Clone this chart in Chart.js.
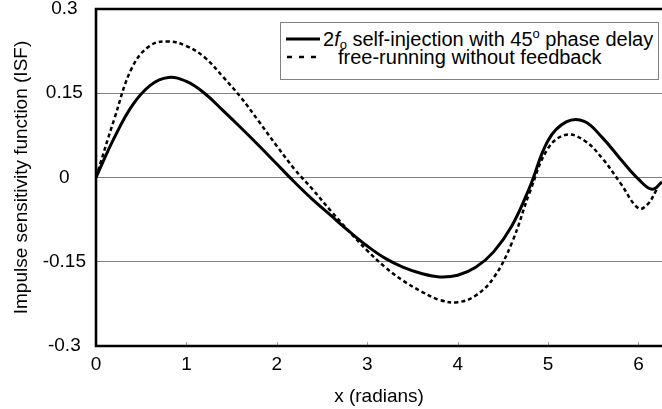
<!DOCTYPE html>
<html>
<head>
<meta charset="utf-8">
<script src="https://cdn.jsdelivr.net/npm/chart.js@4.4.1/dist/chart.umd.min.js"></script>
<style>
  html, body { margin: 0; padding: 0; background: #fff; }
  #wrap { position: relative; width: 662px; height: 409px; }
  #legend {
    position: absolute; left: 280px; top: 22px; width: 379px; height: 58px;
    border: 1px solid #808080; background: #fff; box-sizing: border-box;
    font-family: "Liberation Sans", Arial, sans-serif; font-size: 20px; color: #000;
  }
  .row { position: absolute; white-space: nowrap; line-height: 20px; }
  .sample { position: absolute; }
  sub { font-size: 13px; vertical-align: -3px; line-height: 0; }
  sup { font-size: 13px; vertical-align: 8px; line-height: 0; }
</style>
</head>
<body>
<div id="wrap">
  <canvas id="c" width="662" height="409"></canvas>
  <div id="legend">
    <svg class="sample" style="left:5px; top:12px;" width="34" height="8"><line x1="0" y1="4" x2="34" y2="4" stroke="#000" stroke-width="3"/></svg>
    <div class="row" style="left:42px; top:6px;">2<i>f</i><sub>o</sub> self-injection with 45<sup>o</sup> phase delay</div>
    <svg class="sample" style="left:6px; top:30px;" width="30" height="8"><line x1="0" y1="4" x2="30" y2="4" stroke="#000" stroke-width="2.5" stroke-dasharray="5 7"/></svg>
    <div class="row" style="left:57px; top:24px;">free-running without feedback</div>
  </div>
</div>
<script>
// ---- data ----
const xTickLabels = ["0", "1", "2", "3", "4", "5", "6"];
const yTickLabels = ["-0.3", "-0.15", "0", "0.15", "0.3"];

const seriesNames = ["2fo self-injection with 45o phase delay", "free-running without feedback"];

const xSelf = [0, 0.2, 0.4, 0.6, 0.8, 1.0, 1.2, 1.4, 1.6, 1.8, 2.0, 2.2, 2.4, 2.6, 2.8, 3.0, 3.2, 3.4, 3.6, 3.8, 4.0, 4.2, 4.4, 4.6, 4.8, 5.0, 5.2, 5.4, 5.6, 5.8, 6.0, 6.15, 6.26];
const ySelf = [0, 0.070, 0.128, 0.164, 0.178, 0.171, 0.150, 0.120, 0.089, 0.057, 0.024, -0.009, -0.040, -0.068, -0.096, -0.122, -0.144, -0.160, -0.171, -0.177, -0.174, -0.160, -0.132, -0.086, -0.016, 0.066, 0.099, 0.100, 0.071, 0.033, -0.003, -0.021, -0.008];

const xFree = [0, 0.2, 0.4, 0.6, 0.8, 1.0, 1.2, 1.4, 1.6, 1.8, 2.0, 2.2, 2.4, 2.6, 2.8, 3.0, 3.2, 3.4, 3.6, 3.8, 4.0, 4.2, 4.4, 4.6, 4.8, 5.0, 5.2, 5.4, 5.6, 5.8, 6.0, 6.1, 6.2];
const yFree = [0, 0.103, 0.196, 0.235, 0.242, 0.234, 0.214, 0.180, 0.143, 0.100, 0.056, 0.014, -0.022, -0.060, -0.096, -0.130, -0.160, -0.184, -0.203, -0.218, -0.222, -0.210, -0.178, -0.116, -0.025, 0.052, 0.076, 0.066, 0.034, -0.010, -0.055, -0.048, -0.022];

const toPoints = (xs, ys) => xs.map((x, i) => ({ x: x, y: ys[i] }));

const frame = {
  id: 'frame',
  afterDraw(chart) {
    const { ctx, chartArea: a, scales } = chart;
    ctx.save();
    ctx.strokeStyle = '#a0a0a0';
    ctx.lineWidth = 1;
    scales.x.ticks.forEach(t => {
      const px = Math.round(scales.x.getPixelForValue(t.value)) + 0.5;
      ctx.beginPath();
      ctx.moveTo(px, a.bottom);
      ctx.lineTo(px, a.bottom - 4);
      ctx.stroke();
    });
    ctx.strokeStyle = '#000';
    ctx.lineWidth = 2.6;
    ctx.beginPath();
    ctx.moveTo(a.right + 2, a.top);
    ctx.lineTo(a.left, a.top);
    ctx.lineTo(a.left, a.bottom);
    ctx.lineTo(a.right + 2, a.bottom);
    ctx.stroke();
    ctx.restore();
  }
};

const FONT = { family: '"Liberation Sans", Arial, sans-serif', size: 19 };

new Chart(document.getElementById('c'), {
  type: 'line',
  data: {
    datasets: [
      {
        label: seriesNames[0],
        data: toPoints(xSelf, ySelf),
        borderColor: '#000',
        borderWidth: 3,
        pointRadius: 0,
        tension: 0.4,
        fill: false
      },
      {
        label: seriesNames[1],
        data: toPoints(xFree, yFree),
        borderColor: '#000',
        borderWidth: 2.5,
        borderDash: [4, 3],
        pointRadius: 0,
        tension: 0.4,
        fill: false
      }
    ]
  },
  options: {
    responsive: false,
    animation: false,
    events: [],
    layout: { padding: 0 },
    plugins: { legend: { display: false }, tooltip: { enabled: false } },
    scales: {
      x: {
        type: 'linear',
        min: 0,
        max: 6.26,
        afterBuildTicks(scale) {
          scale.ticks = xTickLabels.map(s => ({ value: parseFloat(s) }));
        },
        afterFit(scale) { scale.height = 63; scale.paddingLeft = 0; scale.paddingRight = 0; },
        ticks: {
          font: FONT, color: '#000', padding: 7,
          maxRotation: 0,
          callback: (v, i) => xTickLabels[i]
        },
        grid: { display: false, drawTicks: false },
        border: { display: false },
        title: {
          display: true, text: 'x (radians)', font: FONT, color: '#000',
          padding: { top: 0, bottom: 1 }
        }
      },
      y: {
        type: 'linear',
        min: -0.3,
        max: 0.3,
        afterBuildTicks(scale) {
          scale.ticks = yTickLabels.map(s => ({ value: parseFloat(s) }));
        },
        afterFit(scale) { scale.width = 96; scale.paddingTop = 9; scale.paddingBottom = 0; },
        ticks: {
          font: FONT, color: '#000', padding: 10, crossAlign: 'center',
          callback: (v, i) => yTickLabels[i]
        },
        grid: {
          drawTicks: false,
          color: ctx => (Math.abs(Math.abs(ctx.tick.value) - 0.3) < 1e-6 ? 'rgba(0,0,0,0)' : '#808080'),
          lineWidth: 1
        },
        border: { display: false },
        title: {
          display: true, text: 'Impulse sensitivity function (ISF)', font: FONT, color: '#000',
          padding: { top: 10, bottom: 4 }
        }
      }
    }
  },
  plugins: [frame]
});
</script>
</body>
</html>
